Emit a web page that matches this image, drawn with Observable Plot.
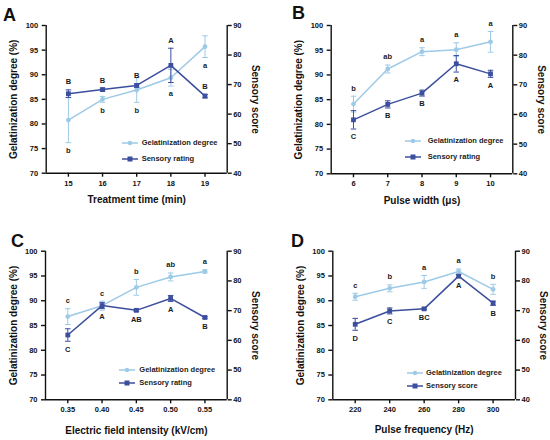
<!DOCTYPE html>
<html><head><meta charset="utf-8">
<script src="https://cdn.jsdelivr.net/npm/d3@7"></script>
<script src="https://cdn.jsdelivr.net/npm/@observablehq/plot@0.6"></script>
<style>
body{margin:0;background:#fff;font-family:"Liberation Sans",Arial,sans-serif;}
#fig{position:relative;width:550px;height:440px;overflow:hidden;}
.panel{position:absolute;width:275px;height:220px;}
.panel svg.plot{position:absolute;left:0;top:0;}
.letter{position:absolute;font-weight:bold;font-size:18px;line-height:18px;color:#111;}
.lg{position:absolute;font-size:7.5px;font-weight:bold;color:#222;white-space:nowrap;line-height:8px;}
.sw{position:absolute;}
</style></head>
<body><div id="fig"></div>
<script>
// ---- data ----
const xA = [15, 16, 17, 18, 19];
const gelA = [80.8, 85.0, 86.9, 89.4, 95.7];
const gelErrA = [4.6, 0.6, 2.5, 1.7, 2.2];
const sensA = [66.9, 68.3, 69.7, 76.5, 66.1];
const sensErrA = [1.3, 0.5, 0.6, 5.8, 0.6];
const gelLetA = ["b", "b", "b", "a", "a"];
const sensLetA = ["B", "B", "B", "A", "B"];

const xB = [6, 7, 8, 9, 10];
const gelB = [84.1, 91.2, 94.7, 95.1, 96.7];
const gelErrB = [1.6, 0.8, 0.8, 1.4, 2.1];
const sensB = [58.2, 63.4, 67.2, 77.1, 73.7];
const sensErrB = [3.1, 1.2, 1.0, 2.8, 1.2];
const gelLetB = ["b", "ab", "a", "a", "a"];
const sensLetB = ["C", "B", "B", "A", "A"];

const xC = [0.35, 0.40, 0.45, 0.50, 0.55];
const gelC = [86.8, 89.0, 92.7, 94.8, 95.9];
const gelErrC = [1.6, 0.9, 1.6, 0.8, 0.3];
const sensC = [61.8, 71.7, 70.1, 74.1, 67.7];
const sensErrC = [2.1, 1.0, 0.4, 1.0, 0.3];
const gelLetC = ["c", "c", "b", "ab", "a"];
const sensLetC = ["C", "A", "AB", "A", "B"];

const xD = [220, 240, 260, 280, 300];
const gelD = [90.8, 92.5, 93.8, 95.9, 92.3];
const gelErrD = [0.7, 0.7, 1.3, 0.5, 1.0];
const sensD = [65.4, 69.9, 70.6, 81.6, 72.5];
const sensErrD = [2.0, 1.0, 0.3, 0.5, 0.7];
const gelLetD = ["c", "b", "a", "a", "b"];
const sensLetD = ["D", "C", "BC", "A", "B"];

const leftTicks = [70, 75, 80, 85, 90, 95, 100];
const rightTicks = [40, 50, 60, 70, 80, 90];
const leftTitle = "Gelatinization degree (%)";
const rightTitle = "Sensory score";
const gelName = "Gelatinization degree";

const LIGHT = "#9dcae6";
const DARK = "#3c4e9e";
const FONT = "'Liberation Sans', Arial, sans-serif";

// right axis (40..90) mapped onto left axis (70..100)
const toLeft = s => 70 + (s - 40) * 0.6;

const cap = {draw(ctx) { ctx.moveTo(-2.8, 0); ctx.lineTo(2.8, 0); }};

const panels = [
  {id: "A", ox: 0, oy: 0, x: xA, gel: gelA, gelErr: gelErrA, sens: sensA, sensErr: sensErrA,
   gelLet: gelLetA, sensLet: sensLetA, gelBelow: true, xDomain: [14.35, 19.65], fmt: d3.format("d"),
   xTitle: "Treatment time (min)", sensName: "Sensory rating",
   m: [25, 48.3, 47.3, 45.7], xTitleDy: 27, letter: [3, 6], legend: [122, 141.7, 143.3, 159.3]},
  {id: "B", ox: 275, oy: 0, x: xB, gel: gelB, gelErr: gelErrB, sens: sensB, sensErr: sensErrB,
   gelLet: gelLetB, sensLet: sensLetB, gelBelow: false, xDomain: [5.35, 10.65], fmt: d3.format("d"),
   xTitle: "Pulse width (μs)", sensName: "Sensory rating",
   m: [25, 37.7, 46.7, 55.7], xTitleDy: 27, letter: [17, 4], legend: [130, 152.7, 141, 156.7]},
  {id: "C", ox: 0, oy: 220, x: xC, gel: gelC, gelErr: gelErrC, sens: sensC, sensErr: sensErrC,
   gelLet: gelLetC, sensLet: sensLetC, gelBelow: false, xDomain: [0.3175, 0.5825], fmt: d3.format(".2f"),
   xTitle: "Electric field intensity (kV/cm)", sensName: "Sensory rating",
   m: [30.7, 48.3, 40.7, 45], xTitleDy: 31, letter: [11, 12], legend: [119, 139.3, 150, 163.3]},
  {id: "D", ox: 275, oy: 220, x: xD, gel: gelD, gelErr: gelErrD, sens: sensD, sensErr: sensErrD,
   gelLet: gelLetD, sensLet: sensLetD, gelBelow: false, xDomain: [207, 313], fmt: d3.format("d"),
   xTitle: "Pulse frequency (Hz)", sensName: "Sensory score",
   m: [30.7, 35, 40.7, 57.3], xTitleDy: 30, letter: [16, 12], legend: [131.7, 151, 152.7, 166]}
];

const fig = document.getElementById("fig");

for (const p of panels) {
  const rows = p.x.map((x, i) => ({
    x, g: p.gel[i], ge: p.gelErr[i],
    s: toLeft(p.sens[i]), se: p.sensErr[i] * 0.6,
    gl: p.gelLet[i], sl: p.sensLet[i]
  }));
  const [mt, mr, mb, ml] = p.m;
  const txt = {fontSize: 7.5, fontWeight: "bold", fill: "#1a1a1a"};
  const title = {fontSize: 10, fontWeight: "bold", fill: "#111", textAnchor: "middle", lineAnchor: "middle"};
  const chart = Plot.plot({
    width: 275, height: 220,
    marginTop: mt, marginRight: mr, marginBottom: mb, marginLeft: ml,
    style: {fontFamily: FONT, fontWeight: "bold", color: "#111", background: "transparent", overflow: "visible"},
    x: {domain: p.xDomain},
    y: {domain: [70, 100]},
    marks: [
      // axes
      Plot.axisX({ticks: p.x, tickFormat: p.fmt, tickSize: 4, tickPadding: 3, fontSize: 7.5, fontWeight: "bold", strokeWidth: 1.4, label: null}),
      Plot.axisY({ticks: leftTicks, tickSize: 4, tickPadding: 4, fontSize: 7.5, fontWeight: "bold", strokeWidth: 1.4, label: null}),
      Plot.axisY({anchor: "right", ticks: rightTicks.map(toLeft), tickFormat: d => Math.round(40 + (d - 70) / 0.6),
        tickSize: 4, tickPadding: 2, fontSize: 7.5, fontWeight: "bold", strokeWidth: 1.4, label: null}),
      Plot.ruleY([70], {stroke: "#111", strokeWidth: 1.4}),
      Plot.ruleX([p.xDomain[0]], {stroke: "#111", strokeWidth: 1.4}),
      Plot.ruleX([p.xDomain[1]], {stroke: "#111", strokeWidth: 1.4}),
      // titles
      Plot.text([p.xTitle], {frameAnchor: "bottom", dy: p.xTitleDy, ...title}),
      Plot.text([leftTitle], {frameAnchor: "left", dx: -32, rotate: -90, ...title}),
      Plot.text([rightTitle], {frameAnchor: "right", dx: 28, rotate: 90, ...title}),
      // gelatinization series
      Plot.ruleX(rows, {x: "x", y1: d => d.g - d.ge, y2: d => d.g + d.ge, stroke: LIGHT, strokeWidth: 1}),
      Plot.dot(rows, {x: "x", y: d => d.g - d.ge, symbol: cap, fill: "none", stroke: LIGHT, strokeWidth: 1}),
      Plot.dot(rows, {x: "x", y: d => d.g + d.ge, symbol: cap, fill: "none", stroke: LIGHT, strokeWidth: 1}),
      Plot.line(rows, {x: "x", y: "g", stroke: LIGHT, strokeWidth: 1.5}),
      Plot.dot(rows, {x: "x", y: "g", r: 2.4, fill: LIGHT, stroke: "none"}),
      // sensory series
      Plot.ruleX(rows, {x: "x", y1: d => d.s - d.se, y2: d => d.s + d.se, stroke: DARK, strokeWidth: 1}),
      Plot.dot(rows, {x: "x", y: d => d.s - d.se, symbol: cap, fill: "none", stroke: DARK, strokeWidth: 1}),
      Plot.dot(rows, {x: "x", y: d => d.s + d.se, symbol: cap, fill: "none", stroke: DARK, strokeWidth: 1}),
      Plot.line(rows, {x: "x", y: "s", stroke: DARK, strokeWidth: 1.5}),
      Plot.dot(rows, {x: "x", y: "s", r: 2.7, symbol: "square", fill: DARK, stroke: "none"}),
      // significance letters
      Plot.text(rows, {x: "x", y: d => p.gelBelow ? d.g - d.ge : d.g + d.ge, text: "gl", dy: p.gelBelow ? 8 : -8, ...txt}),
      Plot.text(rows, {x: "x", y: d => p.gelBelow ? d.s + d.se : d.s - d.se, text: "sl", dy: p.gelBelow ? -8 : 8, ...txt})
    ]
  });
  chart.classList.add("plot");

  const div = document.createElement("div");
  div.className = "panel";
  div.style.left = p.ox + "px";
  div.style.top = p.oy + "px";
  div.appendChild(chart);

  const L = document.createElement("div");
  L.className = "letter";
  L.style.left = p.letter[0] + "px";
  L.style.top = p.letter[1] + "px";
  L.textContent = p.id;
  div.appendChild(L);

  const [lx, tx, y1, y2] = p.legend;
  const items = [[gelName, LIGHT, "circle", y1], [p.sensName, DARK, "square", y2]];
  for (const [name, color, shape, y] of items) {
    const sw = document.createElementNS("http://www.w3.org/2000/svg", "svg");
    sw.setAttribute("class", "sw");
    sw.setAttribute("width", 16); sw.setAttribute("height", 8);
    sw.style.left = lx + "px"; sw.style.top = (y - 4) + "px";
    const marker = shape === "circle"
      ? `<circle cx="8" cy="4" r="2.2" fill="${color}"/>`
      : `<rect x="5.5" y="1.5" width="5" height="5" fill="${color}"/>`;
    sw.innerHTML = `<line x1="0" y1="4" x2="16" y2="4" stroke="${color}" stroke-width="1.5"/>${marker}`;
    div.appendChild(sw);
    const t = document.createElement("div");
    t.className = "lg";
    t.style.left = tx + "px"; t.style.top = (y - 4) + "px";
    t.textContent = name;
    div.appendChild(t);
  }
  fig.appendChild(div);
}
</script></body></html>
